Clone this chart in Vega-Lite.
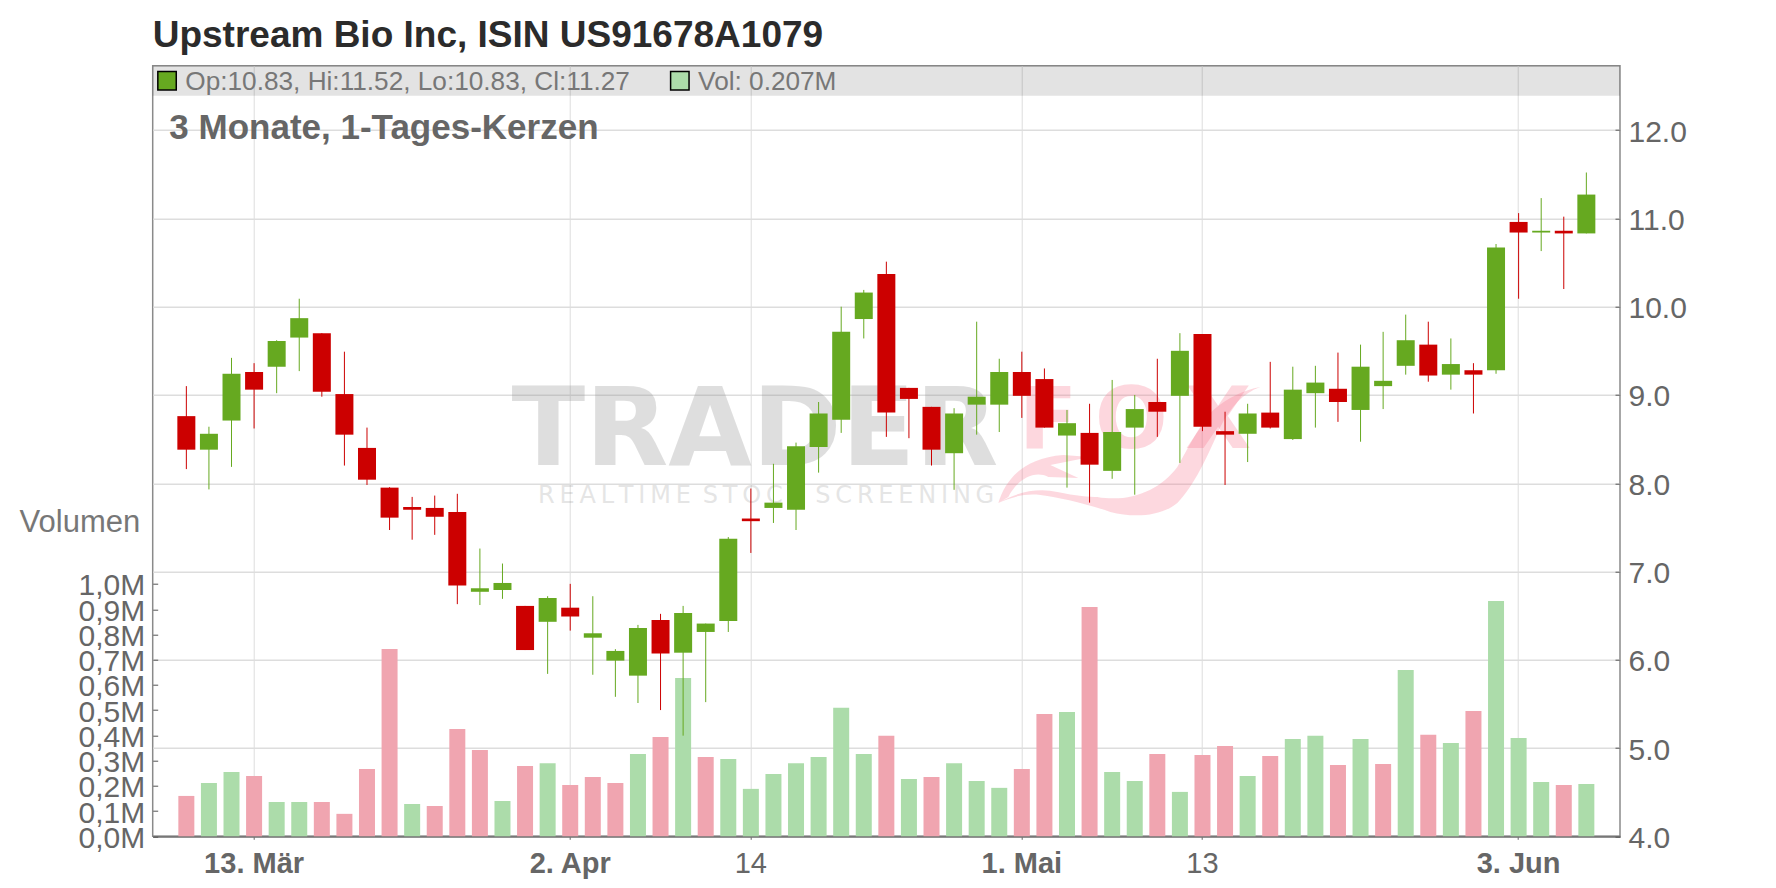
{
  "$schema": "https://vega.github.io/schema/vega-lite/v6.json",
  "description": "Upstream Bio Inc candlestick chart, 3 months of daily candles with volume bars.",
  "autosize": {"type": "none"},
  "padding": {"left": 152.7, "top": 65.7, "right": 156, "bottom": 51.7},
  "width": 1467.3,
  "height": 770.6,
  "background": "white",
  "config": {
    "font": "Liberation Sans",
    "view": {"stroke": "#8a8a8a", "strokeWidth": 1.5}
  },
  "title": {
    "text": "Upstream Bio Inc, ISIN US91678A1079",
    "anchor": "start",
    "frame": "group",
    "font": "Liberation Sans",
    "fontSize": 37,
    "fontWeight": "bold",
    "color": "#2b2b2b",
    "baseline": "alphabetic",
    "offset": -18
  },
  "datasets": {
    "candles": [
      {"date": "2025-03-10", "open": 8.76, "high": 9.10, "low": 8.16, "close": 8.38, "volume": 0.160, "volDir": "down"},
      {"date": "2025-03-11", "open": 8.38, "high": 8.64, "low": 7.93, "close": 8.56, "volume": 0.211, "volDir": "up"},
      {"date": "2025-03-12", "open": 8.71, "high": 9.42, "low": 8.185, "close": 9.24, "volume": 0.255, "volDir": "up"},
      {"date": "2025-03-13", "open": 9.26, "high": 9.36, "low": 8.62, "close": 9.06, "volume": 0.239, "volDir": "down"},
      {"date": "2025-03-14", "open": 9.32, "high": 9.62, "low": 9.02, "close": 9.61, "volume": 0.136, "volDir": "up"},
      {"date": "2025-03-17", "open": 9.65, "high": 10.09, "low": 9.27, "close": 9.87, "volume": 0.136, "volDir": "up"},
      {"date": "2025-03-18", "open": 9.70, "high": 9.70, "low": 8.98, "close": 9.035, "volume": 0.136, "volDir": "down"},
      {"date": "2025-03-19", "open": 9.01, "high": 9.49, "low": 8.20, "close": 8.55, "volume": 0.089, "volDir": "down"},
      {"date": "2025-03-20", "open": 8.40, "high": 8.63, "low": 7.98, "close": 8.04, "volume": 0.267, "volDir": "down"},
      {"date": "2025-03-21", "open": 7.95, "high": 7.955, "low": 7.47, "close": 7.61, "volume": 0.742, "volDir": "down"},
      {"date": "2025-03-24", "open": 7.73, "high": 7.845, "low": 7.36, "close": 7.70, "volume": 0.128, "volDir": "up"},
      {"date": "2025-03-25", "open": 7.72, "high": 7.86, "low": 7.415, "close": 7.62, "volume": 0.120, "volDir": "down"},
      {"date": "2025-03-26", "open": 7.675, "high": 7.88, "low": 6.63, "close": 6.84, "volume": 0.425, "volDir": "down"},
      {"date": "2025-03-27", "open": 6.77, "high": 7.26, "low": 6.62, "close": 6.81, "volume": 0.342, "volDir": "down"},
      {"date": "2025-03-28", "open": 6.79, "high": 7.09, "low": 6.69, "close": 6.87, "volume": 0.140, "volDir": "up"},
      {"date": "2025-03-31", "open": 6.61, "high": 6.61, "low": 6.11, "close": 6.11, "volume": 0.279, "volDir": "down"},
      {"date": "2025-04-01", "open": 6.43, "high": 6.72, "low": 5.84, "close": 6.70, "volume": 0.290, "volDir": "up"},
      {"date": "2025-04-02", "open": 6.59, "high": 6.86, "low": 6.33, "close": 6.49, "volume": 0.203, "volDir": "down"},
      {"date": "2025-04-03", "open": 6.25, "high": 6.72, "low": 5.83, "close": 6.30, "volume": 0.235, "volDir": "down"},
      {"date": "2025-04-04", "open": 5.99, "high": 6.12, "low": 5.58, "close": 6.10, "volume": 0.211, "volDir": "down"},
      {"date": "2025-04-07", "open": 5.82, "high": 6.395, "low": 5.51, "close": 6.36, "volume": 0.326, "volDir": "up"},
      {"date": "2025-04-08", "open": 6.45, "high": 6.52, "low": 5.43, "close": 6.07, "volume": 0.394, "volDir": "down"},
      {"date": "2025-04-09", "open": 6.08, "high": 6.61, "low": 5.14, "close": 6.53, "volume": 0.627, "volDir": "up"},
      {"date": "2025-04-10", "open": 6.315, "high": 6.41, "low": 5.52, "close": 6.41, "volume": 0.314, "volDir": "down"},
      {"date": "2025-04-11", "open": 6.44, "high": 7.39, "low": 6.315, "close": 7.37, "volume": 0.306, "volDir": "up"},
      {"date": "2025-04-14", "open": 7.60, "high": 7.94, "low": 7.21, "close": 7.57, "volume": 0.188, "volDir": "up"},
      {"date": "2025-04-15", "open": 7.72, "high": 8.22, "low": 7.55, "close": 7.78, "volume": 0.247, "volDir": "up"},
      {"date": "2025-04-16", "open": 7.70, "high": 8.46, "low": 7.47, "close": 8.42, "volume": 0.290, "volDir": "up"},
      {"date": "2025-04-17", "open": 8.41, "high": 8.92, "low": 8.12, "close": 8.79, "volume": 0.314, "volDir": "up"},
      {"date": "2025-04-21", "open": 8.72, "high": 10.0, "low": 8.57, "close": 9.715, "volume": 0.509, "volDir": "up"},
      {"date": "2025-04-22", "open": 9.86, "high": 10.19, "low": 9.64, "close": 10.16, "volume": 0.326, "volDir": "up"},
      {"date": "2025-04-23", "open": 10.37, "high": 10.51, "low": 8.525, "close": 8.80, "volume": 0.398, "volDir": "down"},
      {"date": "2025-04-24", "open": 9.08, "high": 9.08, "low": 8.51, "close": 8.955, "volume": 0.227, "volDir": "up"},
      {"date": "2025-04-25", "open": 8.865, "high": 8.865, "low": 8.20, "close": 8.38, "volume": 0.235, "volDir": "down"},
      {"date": "2025-04-28", "open": 8.34, "high": 8.85, "low": 7.925, "close": 8.79, "volume": 0.290, "volDir": "up"},
      {"date": "2025-04-29", "open": 8.89, "high": 9.83, "low": 8.55, "close": 8.98, "volume": 0.219, "volDir": "up"},
      {"date": "2025-04-30", "open": 8.89, "high": 9.41, "low": 8.58, "close": 9.26, "volume": 0.192, "volDir": "up"},
      {"date": "2025-05-01", "open": 9.26, "high": 9.49, "low": 8.74, "close": 8.99, "volume": 0.267, "volDir": "down"},
      {"date": "2025-05-02", "open": 9.18, "high": 9.30, "low": 8.63, "close": 8.63, "volume": 0.485, "volDir": "down"},
      {"date": "2025-05-05", "open": 8.54, "high": 8.83, "low": 7.95, "close": 8.68, "volume": 0.493, "volDir": "up"},
      {"date": "2025-05-06", "open": 8.57, "high": 8.90, "low": 7.78, "close": 8.21, "volume": 0.909, "volDir": "down"},
      {"date": "2025-05-07", "open": 8.14, "high": 9.17, "low": 8.05, "close": 8.58, "volume": 0.255, "volDir": "up"},
      {"date": "2025-05-08", "open": 8.63, "high": 9.0, "low": 7.87, "close": 8.84, "volume": 0.219, "volDir": "up"},
      {"date": "2025-05-09", "open": 8.92, "high": 9.41, "low": 8.525, "close": 8.81, "volume": 0.326, "volDir": "down"},
      {"date": "2025-05-12", "open": 8.99, "high": 9.70, "low": 8.23, "close": 9.50, "volume": 0.176, "volDir": "up"},
      {"date": "2025-05-13", "open": 9.69, "high": 9.69, "low": 8.59, "close": 8.64, "volume": 0.322, "volDir": "down"},
      {"date": "2025-05-14", "open": 8.59, "high": 8.81, "low": 7.98, "close": 8.55, "volume": 0.358, "volDir": "down"},
      {"date": "2025-05-15", "open": 8.56, "high": 8.90, "low": 8.24, "close": 8.79, "volume": 0.239, "volDir": "up"},
      {"date": "2025-05-16", "open": 8.80, "high": 9.375, "low": 8.62, "close": 8.63, "volume": 0.318, "volDir": "down"},
      {"date": "2025-05-19", "open": 8.50, "high": 9.32, "low": 8.49, "close": 9.06, "volume": 0.386, "volDir": "up"},
      {"date": "2025-05-20", "open": 9.02, "high": 9.33, "low": 8.63, "close": 9.14, "volume": 0.398, "volDir": "up"},
      {"date": "2025-05-21", "open": 9.07, "high": 9.48, "low": 8.695, "close": 8.92, "volume": 0.283, "volDir": "down"},
      {"date": "2025-05-22", "open": 8.83, "high": 9.57, "low": 8.47, "close": 9.32, "volume": 0.386, "volDir": "up"},
      {"date": "2025-05-23", "open": 9.10, "high": 9.715, "low": 8.84, "close": 9.16, "volume": 0.287, "volDir": "down"},
      {"date": "2025-05-27", "open": 9.33, "high": 9.91, "low": 9.23, "close": 9.62, "volume": 0.659, "volDir": "up"},
      {"date": "2025-05-28", "open": 9.57, "high": 9.83, "low": 9.15, "close": 9.22, "volume": 0.402, "volDir": "down"},
      {"date": "2025-05-29", "open": 9.23, "high": 9.64, "low": 9.06, "close": 9.35, "volume": 0.370, "volDir": "up"},
      {"date": "2025-05-30", "open": 9.28, "high": 9.36, "low": 8.79, "close": 9.23, "volume": 0.497, "volDir": "down"},
      {"date": "2025-06-02", "open": 9.28, "high": 10.71, "low": 9.24, "close": 10.67, "volume": 0.933, "volDir": "up"},
      {"date": "2025-06-03", "open": 10.96, "high": 11.06, "low": 10.09, "close": 10.84, "volume": 0.390, "volDir": "up"},
      {"date": "2025-06-04", "open": 10.84, "high": 11.23, "low": 10.63, "close": 10.86, "volume": 0.215, "volDir": "up"},
      {"date": "2025-06-05", "open": 10.86, "high": 11.02, "low": 10.20, "close": 10.83, "volume": 0.203, "volDir": "down"},
      {"date": "2025-06-06", "open": 10.83, "high": 11.52, "low": 10.83, "close": 11.27, "volume": 0.207, "volDir": "up"}
    ]
  },
  "resolve": {"scale": {"y": "independent"}},
  "layer": [
    {
      "data": {"name": "candles"},
      "mark": {"type": "bar", "size": 16},
      "encoding": {
        "x": {
          "field": "date",
          "type": "ordinal",
          "title": null,
          "scale": {"type": "band", "paddingInner": 0, "paddingOuter": 0.99},
          "axis": {
            "values": ["2025-03-13", "2025-04-02", "2025-04-14", "2025-05-01", "2025-05-13", "2025-06-03"],
            "labelExpr": "{'2025-03-13':'13. Mär','2025-04-02':'2. Apr','2025-04-14':'14','2025-05-01':'1. Mai','2025-05-13':'13','2025-06-03':'3. Jun'}[datum.value]",
            "labelAngle": 0,
            "labelFontSize": 29,
            "labelColor": "#666666",
            "labelFontWeight": {"condition": {"test": "datum.value == '2025-04-14' || datum.value == '2025-05-13'", "value": "normal"}, "value": "bold"},
            "labelPadding": 10,
            "labelBaseline": "top",
            "labelOverlap": false,
            "labelBound": false,
            "labelFlush": false,
            "tickSize": 3,
            "tickColor": "#666666",
            "domainColor": "#777777",
            "domainWidth": 2,
            "grid": true,
            "gridColor": "#dddddd",
            "gridWidth": 1
          }
        },
        "y": {
          "field": "volume",
          "type": "quantitative",
          "scale": {"domain": [0, 3.054], "nice": false, "zero": true},
          "axis": {
            "orient": "left",
            "values": [0, 0.1, 0.2, 0.3, 0.4, 0.5, 0.6, 0.7, 0.8, 0.9, 1.0],
            "labelExpr": "replace(format(datum.value, '.1f'), '.', ',') + 'M'",
            "labelFontSize": 30,
            "labelColor": "#666666",
            "labelPadding": 13,
            "labelOffset": 2,
            "labelOverlap": false,
            "labelBound": false,
            "tickSize": -5,
            "tickColor": "#555555",
            "domain": false,
            "grid": false,
            "title": "Volumen",
            "titleFont": "Liberation Sans",
            "titleFontSize": 31,
            "titleFontWeight": "normal",
            "titleColor": "#777777",
            "titleAngle": 0,
            "titleAlign": "right",
            "titleBaseline": "alphabetic",
            "titleX": -13,
            "titleY": 466
          }
        },
        "color": {
          "field": "volDir",
          "type": "nominal",
          "legend": null,
          "scale": {"domain": ["up", "down"], "range": ["#acdcaa", "#f0a5b0"]}
        }
      }
    },
    {
      "layer": [
        {
          "data": {"values": [{}]},
          "mark": {"type": "rect", "color": "#000000", "opacity": 0.11},
          "encoding": {
            "y": {
              "datum": 12.389,
              "type": "quantitative",
              "title": null,
              "scale": {"domain": [4, 12.73], "nice": false, "zero": false},
              "axis": {
                "orient": "right",
                "values": [4, 5, 6, 7, 8, 9, 10, 11, 12],
                "labelFontSize": 30,
                "labelColor": "#666666",
                "labelPadding": 13,
                "labelOffset": 2,
                "labelOverlap": false,
                "labelBound": false,
                "tickSize": -5,
                "tickColor": "#555555",
                "domain": false,
                "grid": true,
                "gridColor": "#dddddd",
                "gridWidth": 1.5
              }
            },
            "y2": {"datum": 12.73}
          }
        },
        {
          "data": {"values": [{}]},
          "mark": {"type": "text", "text": "TRADER", "align": "left", "baseline": "alphabetic", "font": "DejaVu Sans", "fontWeight": "bold", "fontSize": 108, "fill": "#808080", "opacity": 0.25, "dx": 9},
          "encoding": {
            "x": {"datum": "2025-03-28", "type": "ordinal", "title": null},
            "y": {"datum": 8.207, "type": "quantitative", "title": null}
          }
        },
        {
          "data": {"values": [{}]},
          "mark": {"type": "text", "text": "R\u2009E\u2009A\u2009L\u2009T\u2009I\u2009M\u2009E\u2002S\u2009T\u2009O\u2009C\u2009K\u2002S\u2009C\u2009R\u2009E\u2009E\u2009N\u2009I\u2009N\u2009G", "align": "left", "baseline": "alphabetic", "font": "DejaVu Sans", "fontSize": 24, "fill": "#808080", "opacity": 0.2, "dx": 13},
          "encoding": {
            "x": {"datum": "2025-03-31", "type": "ordinal", "title": null},
            "y": {"datum": 7.777, "type": "quantitative", "title": null}
          }
        },
        {
          "data": {"values": [{}]},
          "mark": {"type": "text", "text": "F\u2009O\u2009X", "align": "left", "baseline": "alphabetic", "font": "DejaVu Sans", "fontWeight": "bold", "fontSize": 86, "fill": "#f87088", "opacity": 0.27, "dx": -3},
          "encoding": {
            "x": {"datum": "2025-05-01", "type": "ordinal", "title": null},
            "y": {"datum": 8.4, "type": "quantitative", "title": null}
          }
        },
        {
          "data": {"values": [{}]},
          "mark": {"type": "point", "shape": "M18,133 C25,110 43,88 83,85 L110,87 L70,95 L98,108 L68,107 C53,100 37,110 28,127 Z M18,133 C37,122 57,118 77,122 C95,126 110,127 117,127 C150,133 180,120 197,97 C207,80 220,53 233,40 C247,28 263,20 280,17 C263,23 250,37 240,57 C227,87 213,117 197,133 C180,147 153,148 130,142 C100,132 80,128 60,125 C43,123 30,128 18,133 Z", "filled": true, "fill": "#f87088", "opacity": 0.27, "size": 4, "xOffset": -41.5},
          "encoding": {
            "x": {"datum": "2025-05-01", "type": "ordinal", "title": null},
            "y": {"datum": 9.284, "type": "quantitative", "title": null}
          }
        },
        {
          "data": {"name": "candles"},
          "mark": {"type": "rule", "strokeWidth": 1},
          "encoding": {
            "x": {"field": "date", "type": "ordinal", "title": null},
            "y": {"field": "low", "type": "quantitative", "title": null},
            "y2": {"field": "high"},
            "color": {"condition": {"test": "datum.close >= datum.open", "value": "#66a920"}, "value": "#cc0000"}
          }
        },
        {
          "data": {"name": "candles"},
          "mark": {"type": "bar", "size": 18},
          "encoding": {
            "x": {"field": "date", "type": "ordinal", "title": null},
            "y": {"field": "open", "type": "quantitative", "title": null},
            "y2": {"field": "close"},
            "color": {"condition": {"test": "datum.close >= datum.open", "value": "#66a920"}, "value": "#cc0000"}
          }
        },
        {
          "data": {"values": [{}]},
          "mark": {"type": "text", "text": "3 Monate, 1-Tages-Kerzen", "align": "left", "baseline": "alphabetic", "fontSize": 35, "fontWeight": "bold", "fill": "#666666", "dx": -17},
          "encoding": {
            "x": {"datum": "2025-03-10", "type": "ordinal", "title": null},
            "y": {"datum": 11.9, "type": "quantitative", "title": null}
          }
        },
        {
          "data": {"values": [{}]},
          "mark": {"type": "point", "shape": "square", "filled": true, "fill": "#66a920", "stroke": "#000000", "strokeWidth": 1.5, "size": 340, "opacity": 1, "xOffset": -19.3},
          "encoding": {
            "x": {"datum": "2025-03-10", "type": "ordinal", "title": null},
            "y": {"datum": 12.56, "type": "quantitative", "title": null}
          }
        },
        {
          "data": {"values": [{}]},
          "mark": {"type": "text", "text": "Op:10.83, Hi:11.52, Lo:10.83, Cl:11.27", "align": "left", "baseline": "alphabetic", "fontSize": 26.2, "fill": "#777777", "dx": -1},
          "encoding": {
            "x": {"datum": "2025-03-10", "type": "ordinal", "title": null},
            "y": {"datum": 12.455, "type": "quantitative", "title": null}
          }
        },
        {
          "data": {"values": [{}]},
          "mark": {"type": "point", "shape": "square", "filled": true, "fill": "#acdcaa", "stroke": "#000000", "strokeWidth": 1.5, "size": 340, "opacity": 1, "xOffset": -3.3},
          "encoding": {
            "x": {"datum": "2025-04-09", "type": "ordinal", "title": null},
            "y": {"datum": 12.56, "type": "quantitative", "title": null}
          }
        },
        {
          "data": {"values": [{}]},
          "mark": {"type": "text", "text": "Vol: 0.207M", "align": "left", "baseline": "alphabetic", "fontSize": 26.2, "fill": "#777777", "dx": 15},
          "encoding": {
            "x": {"datum": "2025-04-09", "type": "ordinal", "title": null},
            "y": {"datum": 12.455, "type": "quantitative", "title": null}
          }
        }
      ]
    }
  ]
}
